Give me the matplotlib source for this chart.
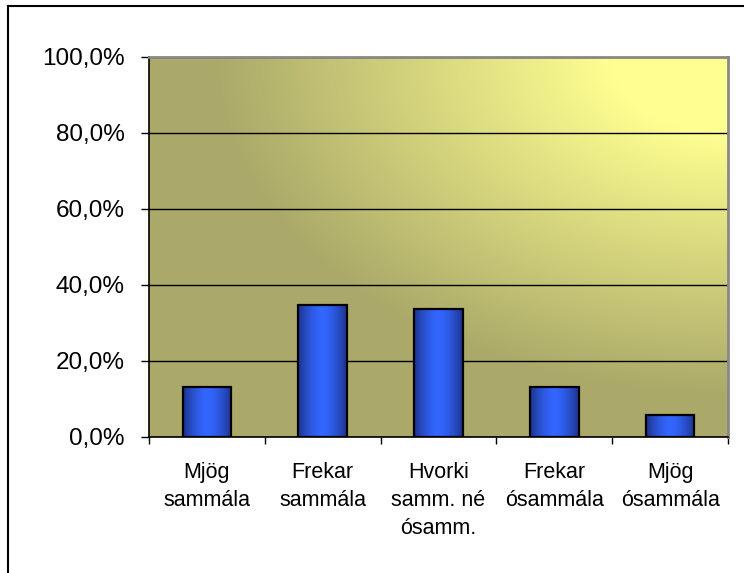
import numpy as np
import matplotlib
matplotlib.use("Agg")
import matplotlib.pyplot as plt
from matplotlib.lines import Line2D
from matplotlib.ticker import FuncFormatter, FixedLocator

categories = ["Mjög\nsammála", "Frekar\nsammála", "Hvorki\nsamm. né\nósamm.",
              "Frekar\nósammála", "Mjög\nósammála"]
values = [13.1, 34.7, 33.6, 13.2, 5.8]
yticks = [0, 20, 40, 60, 80, 100]

plt.rcParams['font.family'] = ['Liberation Sans', 'DejaVu Sans']

fig = plt.figure(figsize=(7.44, 5.73), dpi=100)
fig.patch.set_facecolor('white')

ax = fig.add_axes([149/744, 1 - 437/573, (728 - 149)/744, (437 - 57)/573])
n = len(categories)
x = np.arange(n)

# background gradient (from top-right corner, elliptical)
H, W = 380, 579
yy, xx = np.mgrid[0:H, 0:W]
r = np.sqrt(((W - xx) / W) ** 2 + (yy / H) ** 2)
f = np.clip((0.886 - r) / 0.69, 0, 1)
c0 = np.array([0.667, 0.663, 0.412])
c1 = np.array([1.0, 1.0, 0.57])
img = c0[None, None, :] + (c1 - c0)[None, None, :] * f[:, :, None]
ax.imshow(img, extent=[0, 1, 0, 1], transform=ax.transAxes, aspect='auto',
          zorder=0, origin='upper', interpolation='bilinear')

ax.yaxis.grid(True, color='black', linewidth=1.0, zorder=1)
ax.set_axisbelow(True)

bars = ax.bar(x, values, width=0.42, facecolor='none', edgecolor='black',
              linewidth=1.6, zorder=3)

t = np.linspace(0, 1, 100)
prof = 1 - np.abs(2 * t - 1) ** 1.6
dark = np.array([0.11, 0.20, 0.55])
bright = np.array([0.20, 0.40, 1.0])
grad = dark[None, :] + (bright - dark)[None, :] * prof[:, None]
grad = grad[None, :, :]
for b in bars:
    x0, y0 = b.get_x(), b.get_y()
    w, h = b.get_width(), b.get_height()
    im = ax.imshow(grad, extent=[x0, x0 + w, y0, y0 + h], aspect='auto',
                   zorder=2, interpolation='bilinear')
    im.set_clip_path(b)

ax.set_xlim(-0.5, n - 0.5)
ax.set_ylim(0, 100)

ax.set_yticks(yticks)
ax.yaxis.set_major_formatter(FuncFormatter(lambda v, p: f"{v:.1f}%".replace('.', ',')))
ax.tick_params(axis='y', length=6, width=1, pad=11.5, labelsize=17.5, color='black')

ax.set_xticks(x)
ax.set_xticklabels(categories, fontsize=15.5, linespacing=1.45)
ax.xaxis.set_minor_locator(FixedLocator(np.arange(-0.5, n, 1.0)))
ax.tick_params(axis='x', which='major', length=0, pad=18)
ax.tick_params(axis='x', which='minor', length=5, width=1, color='black')

for s in ['left', 'bottom']:
    ax.spines[s].set_color('black')
    ax.spines[s].set_linewidth(1.2)
for s in ['top', 'right']:
    ax.spines[s].set_color('#888888')
    ax.spines[s].set_linewidth(2)

# figure border (top and left visible)
fig.add_artist(Line2D([8/744, 1], [1 - 6/573, 1 - 6/573], color='black',
                      linewidth=1.5, transform=fig.transFigure))
fig.add_artist(Line2D([8/744, 8/744], [0, 1 - 6/573], color='black',
                      linewidth=1.5, transform=fig.transFigure))

fig.savefig("out.png", dpi=100)
